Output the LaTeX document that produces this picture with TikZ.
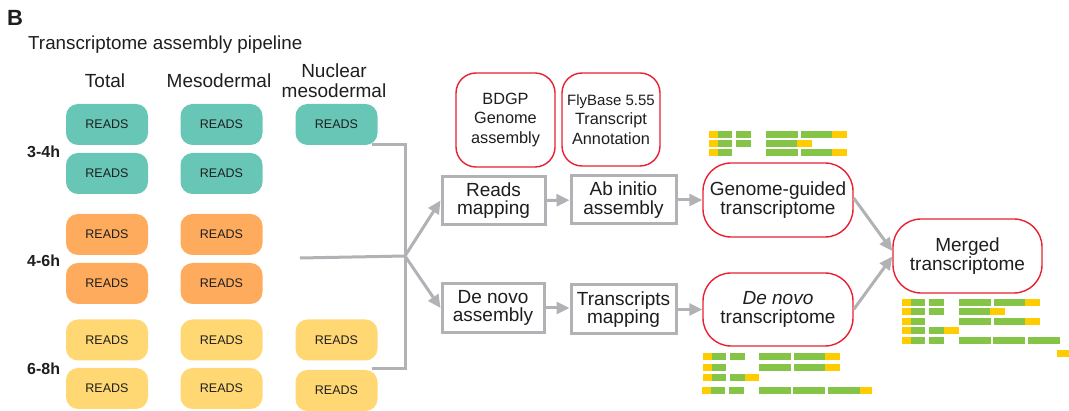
\documentclass[tikz,border=0pt]{standalone}
\usepackage{fontspec}
\setmainfont{Liberation Sans}
\usetikzlibrary{arrows.meta}
\definecolor{teal1}{RGB}{104,198,182}
\definecolor{orng1}{RGB}{255,171,94}
\definecolor{yell1}{RGB}{255,216,115}
\definecolor{barg}{RGB}{133,196,70}
\definecolor{bary}{RGB}{255,204,0}
\definecolor{redl}{RGB}{232,32,50}
\definecolor{grayl}{RGB}{178,178,182}
\definecolor{txt}{RGB}{30,30,30}
\newcommand\seqbar[2]{\foreach \a/\b/\c in {#2} {\fill[\c] (\a,#1) rectangle (\b,{#1+7});}}
\begin{document}
\begin{tikzpicture}[x=1pt,y=-1pt,
  reads/.style={rounded corners=12pt,minimum width=82pt,minimum height=41pt,inner sep=0pt,
    text=txt,font=\fontsize{12.5}{14}\selectfont},
  tealr/.style={reads,fill=teal1},
  orngr/.style={reads,fill=orng1},
  yellr/.style={reads,fill=yell1},
  hdr/.style={font=\fontsize{19}{20}\selectfont,text=txt,align=center,inner sep=0pt},
  rowlab/.style={font=\bfseries\fontsize{16}{18}\selectfont,text=txt,anchor=west,inner sep=0pt},
  redbox/.style={draw=redl,line width=1.4pt,fill=white,align=center,inner sep=0pt,text=txt},
  procbox/.style={draw=grayl,line width=3pt,fill=white,align=center,inner sep=0pt,text=txt,
    font=\fontsize{19}{18.5}\selectfont},
  conn/.style={draw=grayl,line width=3pt},
  arr/.style={conn,-{Triangle[length=13pt,width=12pt]}}]
\useasboundingbox (0,0) rectangle (1069,411);

% title
\node[font=\bfseries\fontsize{22}{24}\selectfont,anchor=base west,inner sep=0pt,text=txt] (lblB) at (7,26) {B};
\node[font=\fontsize{18.8}{20}\selectfont,anchor=base west,inner sep=0pt,text=txt] (title) at (28,50) {Transcriptome assembly pipeline};

% headers
\node[hdr,anchor=base] (hTotal) at (105,88) {Total};
\node[hdr,anchor=base] (hMeso) at (219,88) {Mesodermal};
\node[hdr,anchor=base] (hNuc1) at (334,78) {Nuclear};
\node[hdr,anchor=base] (hNuc2) at (334,98) {mesodermal};

% row labels
\node[rowlab] (r34) at (27,152) {3-4h};
\node[rowlab] (r46) at (27,261) {4-6h};
\node[rowlab] (r68) at (27,369) {6-8h};

% reads boxes
\node[tealr] (a1) at (107,124.5) {READS};
\node[tealr] (a2) at (107,173.5) {READS};
\node[orngr] (a3) at (107,234.5) {READS};
\node[orngr] (a4) at (107,283.5) {READS};
\node[yellr] (a5) at (107,340) {READS};
\node[yellr] (a6) at (107,388.5) {READS};
\node[tealr] (b1) at (221.5,124.5) {READS};
\node[tealr] (b2) at (221.5,173.5) {READS};
\node[orngr] (b3) at (221.5,234.5) {READS};
\node[orngr] (b4) at (221.5,283.5) {READS};
\node[yellr] (b5) at (221.5,340) {READS};
\node[yellr] (b6) at (221.5,388.5) {READS};
\node[tealr] (c1) at (336.5,124.5) {READS};
\node[yellr] (c5) at (336.5,340) {READS};
\node[yellr] (c6) at (336.5,390.5) {READS};

% bracket
\coordinate (k1) at (372,145);
\coordinate (k2) at (372,369);
\coordinate (kmid) at (300,258);
\coordinate (fork) at (405,256);
\draw[conn,line join=miter] (k1) -- (405,145) -- (405,369) -- (k2);
\draw[conn] (kmid) -- (fork);

% reference boxes
\node[redbox,rounded corners=20pt,minimum width=99pt,minimum height=94pt,font=\fontsize{16.3}{19.5}\selectfont] (bdgp) at (505.5,120) {BDGP\\Genome\\assembly};
\node[redbox,rounded corners=20pt,minimum width=98pt,minimum height=93pt,font=\fontsize{16.3}{19.5}\selectfont] (fly) at (611,119.5) {\fontsize{15}{19.5}\selectfont FlyBase 5.55\\Transcript\\Annotation};

% process boxes
\node[procbox,minimum width=103pt,minimum height=48pt] (rm) at (493.5,200.5) {Reads\\mapping};
\node[procbox,minimum width=105pt,minimum height=48pt] (ab) at (623.5,200) {Ab initio\\assembly};
\node[procbox,minimum width=102pt,minimum height=49pt] (dn) at (493,308) {De novo\\assembly};
\node[procbox,minimum width=105pt,minimum height=49pt] (tm) at (623.5,309.5) {Transcripts\\mapping};

% transcriptome boxes
\node[redbox,rounded corners=28pt,minimum width=150pt,minimum height=74pt,font=\fontsize{19}{19.5}\selectfont] (gg) at (778,200) {Genome-guided\\transcriptome};
\node[redbox,rounded corners=28pt,minimum width=150pt,minimum height=73pt,font=\fontsize{19}{19.5}\selectfont] (dt) at (778,309.5) {\textit{De novo}\\transcriptome};
\node[redbox,rounded corners=28pt,minimum width=149pt,minimum height=74pt,font=\fontsize{19}{19.5}\selectfont] (mt) at (967.5,256) {Merged\\transcriptome};

% arrows
\draw[arr] (fork) -- (rm.west);
\draw[arr] (fork) -- (dn.west);
\draw[arr] (rm) -- (ab);
\draw[arr] (dn.east) -- (tm.west |- dn.east);
\draw[arr] (ab.east) -- (gg.west |- ab.east);
\draw[arr] (tm.east) -- (dt.west |- tm.east);
\draw[arr] ([yshift=2pt]gg.east) -- ([yshift=5pt]mt.west);
\draw[arr] (dt.east) -- ([yshift=-0.5pt]mt.west);

% genome-guided bars
\seqbar{131}{709/718/bary,718/732/barg,736/751/barg,766/798/barg,801/832/barg,832/847/bary}
\seqbar{140}{709/718/bary,718/732/barg,736/751/barg,766/797/barg,797/812/bary}
\seqbar{149}{709/718/bary,718/732/barg,766/798/barg,801/832/barg,832/847/bary}

% merged bars
\seqbar{299}{902/911/bary,911/925/barg,929/944/barg,959/991/barg,994/1025/barg,1025/1040/bary}
\seqbar{308}{902/911/bary,911/925/barg,929/944/barg,959/990/barg,990/1005/bary}
\seqbar{318}{902/911/bary,911/925/barg,959/991/barg,994/1025/barg,1025/1040/bary}
\seqbar{327}{902/911/bary,911/925/barg,929/944/barg,944/959/bary}
\seqbar{337}{902/911/bary,911/925/barg,929/944/barg,959/991/barg,993/1025/barg,1028/1060/barg}
\seqbar{350}{1057/1069/bary}

% de novo bars
\seqbar{353}{703/712/bary,712/726/barg,730/745/barg,759/791/barg,794/825/barg,825/840/bary}
\seqbar{364}{703/712/bary,712/726/barg,759/791/barg,794/825/barg,825/840/bary}
\seqbar{374}{703/712/bary,712/726/barg,730/745/barg,745/759/bary}
\seqbar{387}{702/711/bary,711/725/barg,729/744/barg,759/791/barg,793/825/barg,828/860/barg,860/872/bary}
\end{tikzpicture}
\end{document}
